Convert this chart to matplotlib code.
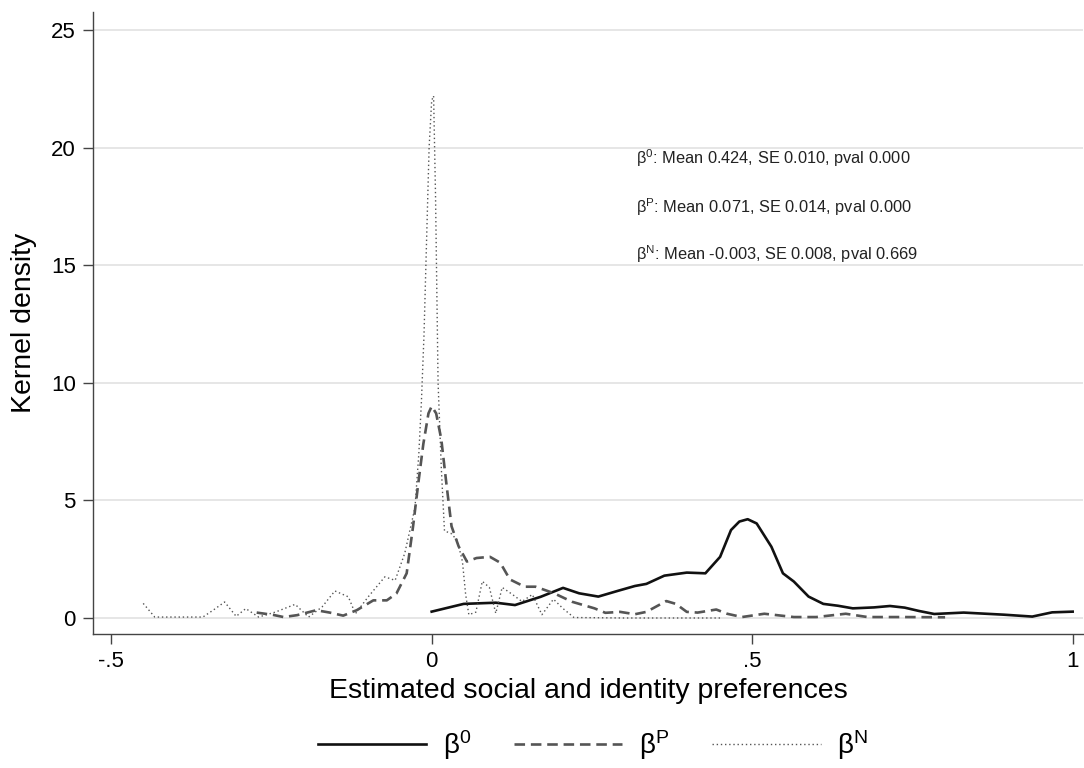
import matplotlib
matplotlib.use("Agg")
import matplotlib.pyplot as plt

plt.rcParams['font.family'] = ['Liberation Sans', 'DejaVu Sans']
plt.rcParams['mathtext.fontset'] = 'custom'
plt.rcParams['mathtext.rm'] = 'Liberation Sans'
plt.rcParams['mathtext.it'] = 'Liberation Sans'
plt.rcParams['mathtext.bf'] = 'Liberation Sans'

# --- kernel density curves ---
b0_x = [0.0, 0.05, 0.1, 0.13, 0.17, 0.205, 0.23, 0.26, 0.29, 0.317, 0.335, 0.363,
        0.398, 0.427, 0.45, 0.467, 0.48, 0.493, 0.507, 0.53, 0.548, 0.565, 0.588,
        0.611, 0.634, 0.657, 0.69, 0.715, 0.738, 0.76, 0.784, 0.83, 0.893, 0.937,
        0.968, 1.0]
b0_y = [0.27, 0.6, 0.65, 0.55, 0.9, 1.28, 1.05, 0.91, 1.15, 1.36, 1.45, 1.8,
        1.93, 1.9, 2.6, 3.74, 4.1, 4.2, 4.02, 3.03, 1.9, 1.55, 0.91,
        0.6, 0.52, 0.41, 0.45, 0.51, 0.44, 0.3, 0.17, 0.23, 0.14, 0.06,
        0.24, 0.27]

bp_x = [-0.273, -0.247, -0.231, -0.21, -0.18, -0.159, -0.138, -0.117, -0.091,
        -0.07, -0.055, -0.039, -0.029, -0.021, -0.013, -0.005, 0.0, 0.007, 0.015,
        0.023, 0.031, 0.042, 0.055, 0.07, 0.091, 0.107, 0.122, 0.145, 0.162,
        0.191, 0.219, 0.254, 0.271, 0.294, 0.317, 0.335, 0.366, 0.381, 0.398,
        0.415, 0.444, 0.461, 0.484, 0.519, 0.565, 0.6, 0.646, 0.68, 0.738, 0.801]
bp_y = [0.23, 0.13, 0.04, 0.12, 0.33, 0.23, 0.1, 0.33, 0.75,
        0.75, 1.04, 1.9, 3.9, 5.7, 7.4, 8.7, 9.0, 8.7, 7.6,
        5.7, 3.9, 3.05, 2.4, 2.55, 2.6, 2.35, 1.64, 1.33, 1.33,
        1.05, 0.69, 0.41, 0.22, 0.26, 0.16, 0.26, 0.72, 0.6, 0.26,
        0.23, 0.36, 0.18, 0.04, 0.18, 0.04, 0.04, 0.18, 0.04, 0.04, 0.03]

bn_x = [-0.45, -0.432, -0.357, -0.341, -0.323, -0.305, -0.29, -0.27, -0.244,
        -0.213, -0.192, -0.171, -0.151, -0.13, -0.119, -0.099, -0.073, -0.057,
        -0.042, -0.026, -0.02, -0.016, -0.012, -0.008, -0.004, 0.0, 0.003,
        0.006, 0.01, 0.015, 0.02, 0.03, 0.04, 0.048, 0.053, 0.058, 0.069,
        0.079, 0.09, 0.1, 0.11, 0.126, 0.141, 0.157, 0.172, 0.19, 0.205,
        0.222, 0.3, 0.4, 0.45]
bn_y = [0.62, 0.04, 0.04, 0.33, 0.68, 0.07, 0.4, 0.04, 0.25,
        0.58, 0.04, 0.47, 1.15, 0.9, 0.18, 0.9, 1.75, 1.6,
        2.75, 4.7, 7.0, 9.2, 12.0, 16.0, 20.0, 22.0, 22.2,
        18.0, 10.0, 6.4, 3.7, 3.6, 3.3, 2.4, 1.0, 0.14, 0.25,
        1.56, 1.3, 0.2, 1.3, 1.0, 0.7, 1.0, 0.14, 0.8, 0.4,
        0.02, 0.0, 0.0, 0.0]

notes = ["β$^{0}$: Mean 0.424, SE 0.010, pval 0.000",
         "β$^{P}$: Mean 0.071, SE 0.014, pval 0.000",
         "β$^{N}$: Mean -0.003, SE 0.008, pval 0.669"]
note_y = [19.56, 17.47, 15.48]

xticks = [-0.5, 0, 0.5, 1]
xticklabels = ["-.5", "0", ".5", "1"]
yticks = [0, 5, 10, 15, 20, 25]

fig = plt.figure(figsize=(10.84, 7.68), dpi=100)
ax = fig.add_axes([0.086, 0.1745, 0.913, 0.81])

for yt in yticks:
    ax.axhline(yt, color='#e6e6e6', lw=1.4, zorder=0)

l0, = ax.plot(b0_x, b0_y, color='#111111', lw=1.9, label='β$^{0}$')
lp, = ax.plot(bp_x, bp_y, color='#555555', lw=1.9, dashes=(4, 2.2), label='β$^{P}$')
ln, = ax.plot(bn_x, bn_y, color='#555555', lw=1.0, linestyle=(0, (1, 2)), label='β$^{N}$')

for t, yy in zip(notes, note_y):
    ax.text(0.318, yy, t, fontsize=11.8, va='center', ha='left', color='#222222')

ax.set_xlim(-0.528, 1.016)
ax.set_ylim(-0.68, 25.77)
ax.set_xticks(xticks)
ax.set_xticklabels(xticklabels)
ax.set_yticks(yticks)
ax.tick_params(axis='both', labelsize=16, length=7.5, width=1, color='#444444',
               direction='out', pad=5)
for s in ['top', 'right']:
    ax.spines[s].set_visible(False)
for s in ['left', 'bottom']:
    ax.spines[s].set_color('#444444')
    ax.spines[s].set_linewidth(1.0)

ax.set_xlabel('Estimated social and identity preferences', fontsize=20.5, labelpad=4)
ax.set_ylabel('Kernel density', fontsize=20.5, labelpad=10)

fig.legend(handles=[l0, lp, ln], loc='center', bbox_to_anchor=(0.547, 0.03), ncol=3,
           frameon=False, fontsize=20, handlelength=3.9, columnspacing=1.55,
           handletextpad=0.6)

fig.savefig('out.png', dpi=100)
